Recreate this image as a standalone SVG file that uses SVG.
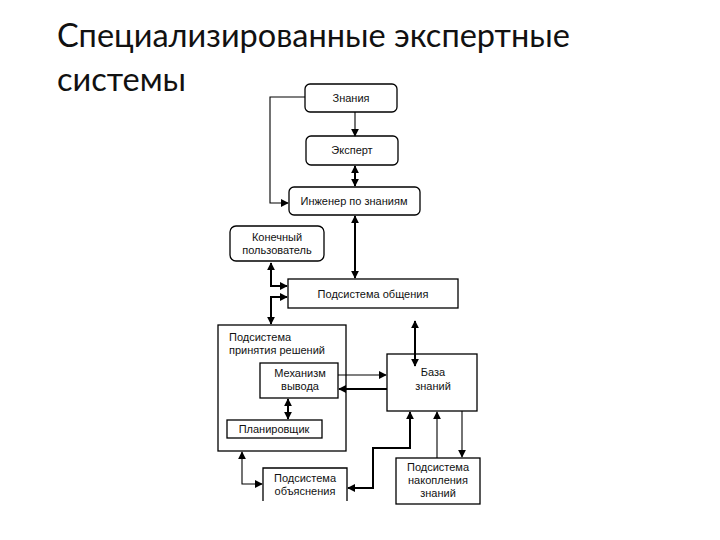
<svg xmlns="http://www.w3.org/2000/svg" width="720" height="540" viewBox="0 0 720 540">
<style>
.title{font-family:Lato,"Liberation Sans",sans-serif;font-size:32.5px;fill:#111}
.lbl{font-family:"Liberation Sans",Arial,sans-serif;font-size:11px;fill:#111;text-anchor:middle}
.lbs{font-family:"Liberation Sans",Arial,sans-serif;font-size:11px;fill:#111}
.box{fill:#fff;stroke:#000;stroke-width:1.3}
.ln{fill:none;stroke:#000;stroke-width:1.1}
.th{fill:none;stroke:#000;stroke-width:2}
</style>
<defs>
<marker id="ah" viewBox="0 0 10 10" refX="9" refY="5" markerWidth="8" markerHeight="8" markerUnits="userSpaceOnUse" orient="auto-start-reverse">
<path d="M0,0 L10,5 L0,10 Z" fill="#000"/>
</marker>
</defs>
<rect width="720" height="540" fill="#fff"/>
<text class="title" x="57" y="47">Специализированные экспертные</text>
<text class="title" x="57" y="91">системы</text>

<g id="znaniya"><rect class="box" x="305" y="84" width="92" height="28" rx="5"/><text class="lbl" x="351" y="102">Знания</text></g>
<g id="ekspert"><rect class="box" x="306" y="136" width="92" height="29" rx="5"/><text class="lbl" x="352" y="154">Эксперт</text></g>
<g id="inzhener"><rect class="box" x="289" y="187" width="131" height="28" rx="5"/><text class="lbl" x="354" y="205">Инженер по знаниям</text></g>
<g id="polzovatel"><rect class="box" x="230" y="226" width="94" height="35" rx="6"/><text class="lbl" x="277" y="241">Конечный</text><text class="lbl" x="277" y="254">пользователь</text></g>
<g id="obshcheniya"><rect class="box" x="288" y="279" width="170" height="29"/><text class="lbl" x="373" y="298">Подсистема общения</text></g>
<g id="prinyatiya"><rect class="box" x="218" y="325" width="128" height="126"/><text class="lbs" x="229" y="341">Подсистема</text><text class="lbs" x="229" y="354">принятия решений</text></g>
<g id="mekhanizm"><rect class="box" x="260" y="363" width="78" height="35"/><text class="lbl" x="300" y="377">Механизм</text><text class="lbl" x="300" y="390">вывода</text></g>
<g id="planirovshchik"><rect class="box" x="227" y="420" width="95" height="18"/><text class="lbl" x="274" y="433">Планировщик</text></g>
<g id="obyasneniya"><path class="box" d="M263,501 L263,468 L347,468 L347,501"/><text class="lbl" x="305" y="482">Подсистема</text><text class="lbl" x="305" y="495">объяснения</text></g>
<g id="baza"><rect class="box" x="387" y="354" width="90" height="57"/><text class="lbl" x="433" y="376">База</text><text class="lbl" x="433" y="390">знаний</text></g>
<g id="nakopleniya"><rect class="box" x="396" y="458" width="84" height="46"/><text class="lbl" x="438" y="471">Подсистема</text><text class="lbl" x="438" y="484">накопления</text><text class="lbl" x="438" y="497">знаний</text></g>

<g id="connectors">
<line class="ln" x1="355" y1="112" x2="355" y2="136" marker-end="url(#ah)"/>
<line class="th" x1="355" y1="166" x2="355" y2="186" marker-start="url(#ah)" marker-end="url(#ah)"/>
<polyline class="ln" points="305,97 270,97 270,203 288,203" marker-end="url(#ah)"/>
<line class="th" x1="355" y1="216" x2="355" y2="278" marker-start="url(#ah)" marker-end="url(#ah)"/>
<polyline class="th" points="271,263 271,286 287,286" marker-start="url(#ah)" marker-end="url(#ah)"/>
<polyline class="th" points="287,297 271,297 271,324" marker-start="url(#ah)" marker-end="url(#ah)"/>
<line class="th" x1="415" y1="321" x2="415" y2="366" marker-start="url(#ah)" marker-end="url(#ah)"/>
<line class="ln" x1="338" y1="375" x2="386" y2="375" marker-end="url(#ah)"/>
<line class="th" x1="387" y1="389" x2="339" y2="389" marker-end="url(#ah)"/>
<line class="th" x1="288" y1="399" x2="288" y2="419" marker-start="url(#ah)" marker-end="url(#ah)"/>
<polyline class="ln" points="242,452 242,484 262,484" marker-start="url(#ah)" marker-end="url(#ah)"/>
<polyline class="th" points="348,488 373,488 373,448 410,448 410,412" marker-start="url(#ah)" marker-end="url(#ah)"/>
<line class="ln" x1="437" y1="458" x2="437" y2="412" marker-end="url(#ah)"/>
<line class="ln" x1="462" y1="411" x2="462" y2="457" marker-end="url(#ah)"/>
</g>
</svg>
